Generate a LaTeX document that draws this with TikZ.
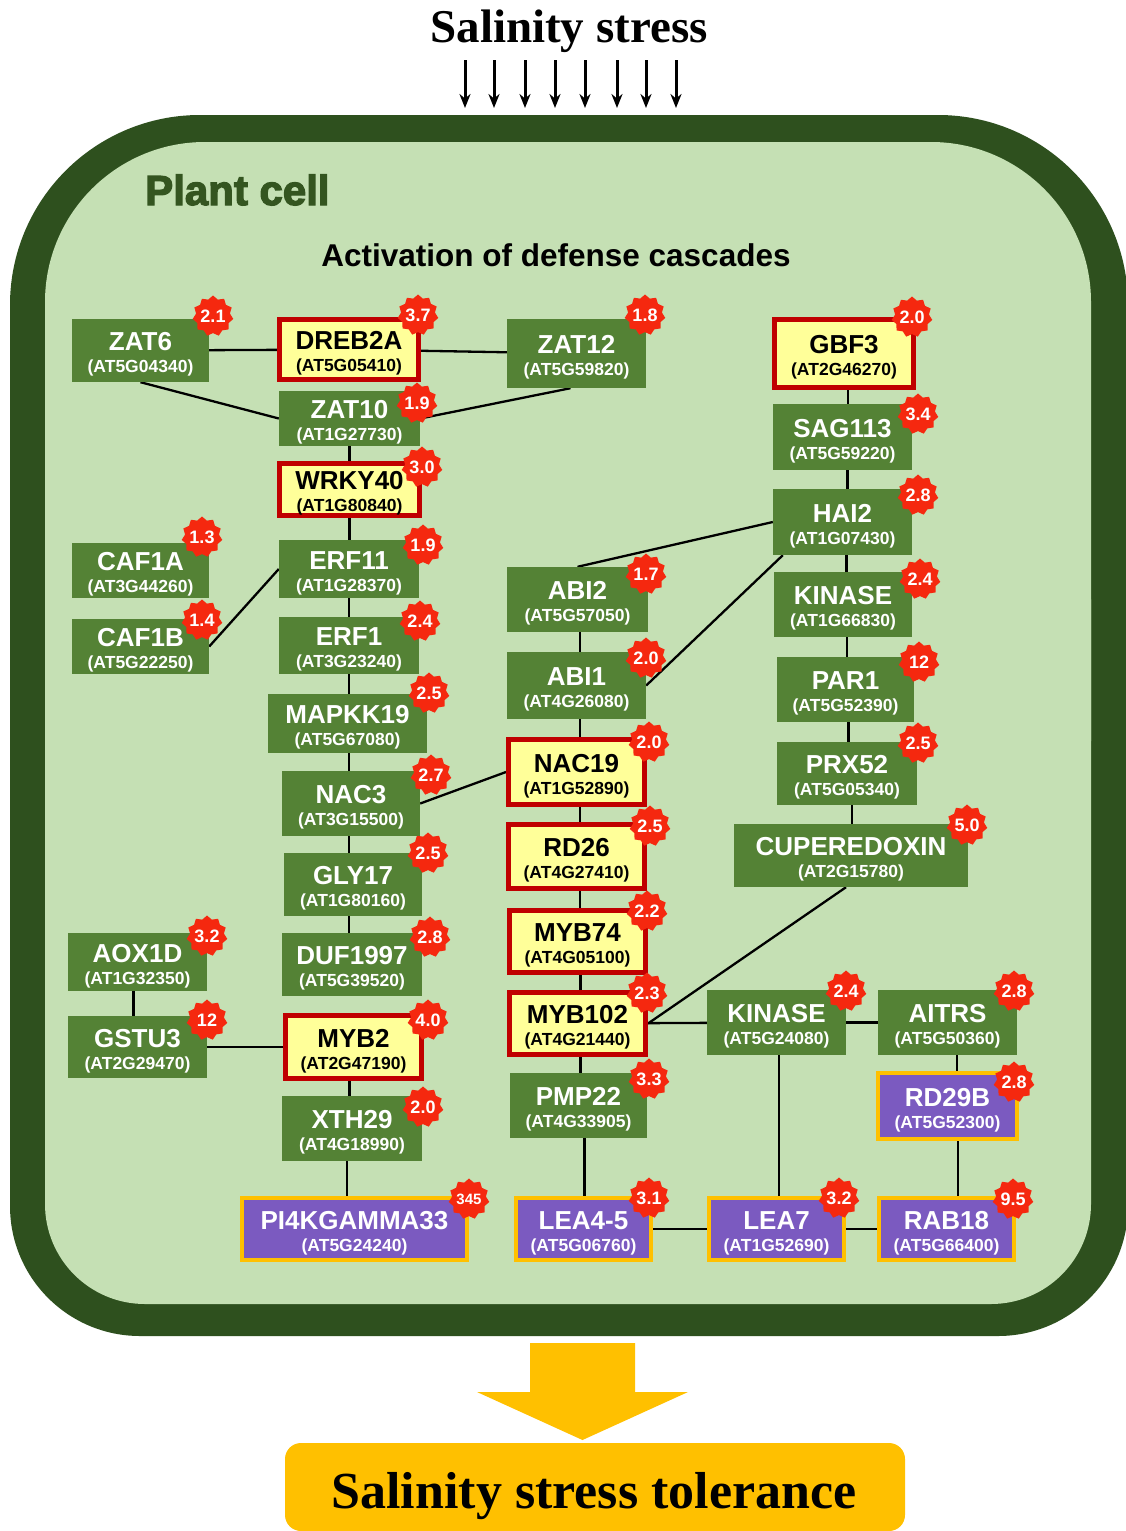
\documentclass[tikz,border=0pt]{standalone}
\usepackage{fontspec}
\setmainfont{Liberation Serif}
\setsansfont{Liberation Sans}
\newfontfamily\heavysans{Liberation Sans}[BoldFeatures={FakeBold=3}]
\usetikzlibrary{shapes.geometric,arrows.meta,calc}
\pgfdeclarelayer{back}
\pgfdeclarelayer{edges}
\pgfsetlayers{back,edges,main}
\definecolor{celldark}{RGB}{46,80,30}
\definecolor{celllight}{RGB}{197,224,180}
\definecolor{nodegreen}{RGB}{84,130,53}
\definecolor{nodeyellow}{RGB}{255,255,153}
\definecolor{nodered}{RGB}{192,0,0}
\definecolor{nodepurple}{RGB}{123,90,192}
\definecolor{gold}{RGB}{255,192,0}
\definecolor{badgered}{RGB}{245,40,15}
\definecolor{plantgreen}{RGB}{52,85,32}
\tikzset{
  gbox/.style={rectangle, fill=nodegreen, inner sep=0pt},
  ybox/.style={rectangle, fill=nodeyellow, draw=nodered, line width=5pt, inner sep=0pt},
  pbox/.style={rectangle, fill=nodepurple, draw=gold, line width=4pt, inner sep=0pt},
  basetxt/.style={align=center, inner sep=0pt, font=\sffamily\bfseries\fontsize{17.5}{22}\selectfont},
  gtxt/.style={basetxt, text=white},
  ytxt/.style={basetxt, text=black},
  ptxt/.style={basetxt, text=white},
  conn/.style={draw=black, line width=2.3pt},
  badge/.style={star, star points=11, star point ratio=1.2, fill=badgered, minimum size=41pt, inner sep=0pt},
  badgetext/.style={text=white, inner sep=0pt, font=\sffamily\bfseries\fontsize{18}{18}\selectfont},
  stressarrow/.style={draw=black, line width=3pt, -{Stealth[length=14pt,width=11pt]}},
}
\newcommand{\gene}[8]{%
  \node[#1box, minimum width=#5pt, minimum height=#6pt] (#2) at (#3,#4) {};
  \node[#1txt] (#2t) at ([yshift=-4pt]#2.center) {{\fontsize{26}{22}\selectfont #7}\\(#8)};}
\newcommand{\bdg}[4]{%
  \node[badge] (#1) at (#2,#3) {};
  \node[badgetext] (#1t) at (#1.center) {#4};}
\newcommand{\vlink}[3]{\draw[conn] ($(#2.south)+(#1,0)$) -- ($(#2.south |- #3.north)+(#1,0)$);}
\begin{document}
\begin{tikzpicture}[x=1pt,y=-1pt]
\useasboundingbox (0,0) rectangle (1126,1531);
% cell
\begin{pgfonlayer}{back}
\fill[white] (0,0) rectangle (1126,1531);
\fill[celldark, rounded corners=190pt] (10,115) rectangle (1128,900);
\fill[celldark, rounded corners=130pt] (10,500) rectangle (1128,1336);
\fill[celllight, rounded corners=160pt] (45,142) rectangle (1091,900);
\fill[celllight, rounded corners=100pt] (45,500) rectangle (1091,1304);
\end{pgfonlayer}
% titles
\node[anchor=base, inner sep=0pt, font=\bfseries\fontsize{47}{47}\selectfont] (title) at (569,42) {Salinity stress};
\foreach \i/\xx in {1/465,2/494,3/525,4/555,5/585,6/617,7/646,8/676}{
  \coordinate (sa\i) at (\xx,60);
  \coordinate (sb\i) at (\xx,108);
  \draw[stressarrow] (sa\i) -- (sb\i);
}
\node[anchor=base west, inner sep=0pt, text=plantgreen, font=\heavysans\bfseries\fontsize{42}{42}\selectfont] (plantcell) at (145,205) {Plant cell};
\node[anchor=base, inner sep=0pt, font=\sffamily\bfseries\fontsize{31.5}{32}\selectfont] (activation) at (556,266) {Activation of defense cascades};
% genes
\gene{g}{zat6}{140.5}{350.5}{137}{63}{ZAT6}{AT5G04340}
\gene{y}{dreb2a}{349}{349.5}{139}{60}{DREB2A}{AT5G05410}
\gene{g}{zat12}{576.5}{353.5}{139}{69}{ZAT12}{AT5G59820}
\gene{y}{gbf3}{844}{353.5}{139}{68}{GBF3}{AT2G46270}
\gene{g}{zat10}{349.5}{418.5}{141}{55}{ZAT10}{AT1G27730}
\gene{y}{wrky40}{349.5}{489.5}{140}{52}{WRKY40}{AT1G80840}
\gene{g}{sag113}{842.5}{437}{139}{66}{SAG113}{AT5G59220}
\gene{g}{hai2}{842.5}{522}{139}{66}{HAI2}{AT1G07430}
\gene{g}{caf1a}{140.5}{570.5}{137}{55}{CAF1A}{AT3G44260}
\gene{g}{caf1b}{140.5}{646.5}{137}{55}{CAF1B}{AT5G22250}
\gene{g}{erf11}{349}{569}{140}{58}{ERF11}{AT1G28370}
\gene{g}{erf1}{349}{645.5}{140}{57}{ERF1}{AT3G23240}
\gene{g}{mapkk19}{347.5}{723.5}{159}{59}{MAPKK19}{AT5G67080}
\gene{g}{abi2}{577.5}{599.5}{141}{65}{ABI2}{AT5G57050}
\gene{g}{abi1}{576.5}{685.5}{139}{67}{ABI1}{AT4G26080}
\gene{g}{kinasea}{843}{604.5}{138}{65}{KINASE}{AT1G66830}
\gene{g}{par1}{845.5}{689.5}{137}{65}{PAR1}{AT5G52390}
\gene{g}{prx52}{847}{773.5}{140}{63}{PRX52}{AT5G05340}
\gene{g}{cuper}{851}{855.5}{234}{63}{CUPEREDOXIN}{AT2G15780}
\gene{g}{nac3}{351}{803.5}{138}{65}{NAC3}{AT3G15500}
\gene{y}{nac19}{576.5}{772}{136}{65}{NAC19}{AT1G52890}
\gene{y}{rd26}{576.5}{856.5}{136}{64}{RD26}{AT4G27410}
\gene{g}{gly17}{353}{884.5}{138}{63}{GLY17}{AT1G80160}
\gene{g}{duf1997}{352}{964.5}{140}{63}{DUF1997}{AT5G39520}
\gene{y}{myb74}{577.5}{941.5}{136}{62}{MYB74}{AT4G05100}
\gene{g}{aox1d}{137.5}{962}{139}{58}{AOX1D}{AT1G32350}
\gene{g}{gstu3}{137.5}{1047}{139}{62}{GSTU3}{AT2G29470}
\gene{y}{myb2}{353.5}{1047}{136}{63}{MYB2}{AT2G47190}
\gene{y}{myb102}{577.5}{1023.5}{136}{62}{MYB102}{AT4G21440}
\gene{g}{kinaseb}{776.5}{1022.5}{139}{65}{KINASE}{AT5G24080}
\gene{g}{aitrs}{947.5}{1022.5}{139}{65}{AITRS}{AT5G50360}
\gene{g}{pmp22}{578.5}{1105.5}{137}{65}{PMP22}{AT4G33905}
\gene{g}{xth29}{352}{1128.5}{140}{65}{XTH29}{AT4G18990}
\gene{p}{rd29b}{947.5}{1106}{139}{66}{RD29B}{AT5G52300}
\gene{p}{pi4k}{354.5}{1229}{225}{62}{PI4KGAMMA33}{AT5G24240}
\gene{p}{lea45}{583.5}{1229}{135}{62}{LEA4-5}{AT5G06760}
\gene{p}{lea7}{776.5}{1229}{135}{62}{LEA7}{AT1G52690}
\gene{p}{rab18}{946.5}{1229}{135}{62}{RAB18}{AT5G66400}
% badges
\bdg{bzat6}{213}{316}{2.1}
\bdg{bdreb2a}{418}{315}{3.7}
\bdg{bzat12}{645}{315}{1.8}
\bdg{bgbf3}{912}{317}{2.0}
\bdg{bzat10}{417}{403}{1.9}
\bdg{bwrky40}{422}{467}{3.0}
\bdg{bsag113}{918}{414}{3.4}
\bdg{bhai2}{918}{495}{2.8}
\bdg{bcaf1a}{202}{537}{1.3}
\bdg{bcaf1b}{202}{620}{1.4}
\bdg{berf11}{423}{545}{1.9}
\bdg{berf1}{420}{621}{2.4}
\bdg{bmapkk19}{429}{693}{2.5}
\bdg{babi2}{646}{574}{1.7}
\bdg{babi1}{646}{658}{2.0}
\bdg{bkinasea}{920}{579}{2.4}
\bdg{bpar1}{919}{662}{12}
\bdg{bprx52}{918}{743}{2.5}
\bdg{bcuper}{967}{825}{5.0}
\bdg{bnac3}{431}{775}{2.7}
\bdg{bnac19}{649}{742}{2.0}
\bdg{brd26}{650}{826}{2.5}
\bdg{bgly17}{428}{853}{2.5}
\bdg{bduf}{430}{937}{2.8}
\bdg{bmyb74}{647}{911}{2.2}
\bdg{baox1d}{207}{936}{3.2}
\bdg{bgstu3}{207}{1020}{12}
\bdg{bmyb2}{428}{1020}{4.0}
\bdg{bmyb102}{647}{993}{2.3}
\bdg{bkinaseb}{846}{991}{2.4}
\bdg{baitrs}{1014}{991}{2.8}
\bdg{bpmp22}{649}{1079}{3.3}
\bdg{bxth29}{423}{1107}{2.0}
\bdg{brd29b}{1014}{1082}{2.8}
\bdg{bpi4k}{469}{1199}{\fontsize{15}{15}\selectfont 345}
\bdg{blea45}{649}{1198}{3.1}
\bdg{blea7}{839}{1198}{3.2}
\bdg{brab18}{1013}{1199}{9.5}
% connectors
\begin{pgfonlayer}{edges}
\draw[conn] (zat6) -- (dreb2a);
\draw[conn] (dreb2a) -- (zat12);
\draw[conn] (zat6.south) -- (zat10.west);
\draw[conn] ([xshift=-6pt]zat12.south) -- (zat10.east);
\draw[conn] (caf1b.east) -- (erf11.west);
\draw[conn] (nac3.east) -- (nac19.west);
\draw[conn] (hai2.west) -- (abi2.north);
\draw[conn] ([xshift=10pt]hai2.south west) -- (abi1.east);
\draw[conn] ([xshift=-5pt]cuper.south) -- (myb102.east);
\draw[conn] (gstu3) -- (myb2);
\draw[conn] (myb102) -- (kinaseb);
\draw[conn] (kinaseb) -- (aitrs);
\draw[conn] (lea45) -- (lea7);
\draw[conn] (lea7) -- (rab18);
\vlink{0}{zat10}{wrky40}
\vlink{0}{wrky40}{erf11}
\vlink{0}{erf11}{erf1}
\vlink{0}{erf1}{mapkk19}
\vlink{1.5}{mapkk19}{nac3}
\vlink{-2}{nac3}{gly17}
\vlink{-4}{gly17}{duf1997}
\vlink{-4}{myb2}{xth29}
\vlink{-5}{xth29}{pi4k}
\vlink{-4}{aox1d}{gstu3}
\vlink{4}{gbf3}{sag113}
\vlink{5}{sag113}{hai2}
\vlink{4}{hai2}{kinasea}
\vlink{4}{kinasea}{par1}
\vlink{3}{par1}{prx52}
\vlink{5}{prx52}{cuper}
\vlink{2.5}{abi2}{abi1}
\vlink{3.5}{abi1}{nac19}
\vlink{3.5}{nac19}{rd26}
\vlink{3.5}{rd26}{myb74}
\vlink{3}{myb74}{myb102}
\vlink{3}{myb102}{pmp22}
\vlink{6}{pmp22}{lea45}
\vlink{2.5}{kinaseb}{lea7}
\vlink{9.5}{aitrs}{rd29b}
\vlink{10.5}{rd29b}{rab18}
\end{pgfonlayer}
% outcome
\fill[gold] (530,1343) -- (635,1343) -- (635,1392) -- (688,1392) -- (582.5,1440) -- (477,1392) -- (530,1392) -- cycle;
\node[fill=gold, rounded corners=16pt, minimum width=620pt, minimum height=88pt, inner sep=0pt] (tolbox) at (595,1487) {};
\node[anchor=base, inner sep=0pt, font=\bfseries\fontsize{52}{52}\selectfont] (tolerance) at (594,1508) {Salinity stress tolerance};
\end{tikzpicture}
\end{document}
